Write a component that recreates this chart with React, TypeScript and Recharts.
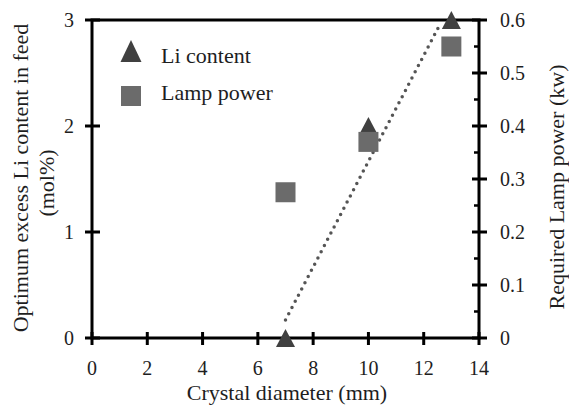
import React from "react";
import {
  ComposedChart,
  Scatter,
  Line,
  XAxis,
  YAxis,
  ReferenceArea,
} from "recharts";

// values
const diameters = [7, 10, 13];
const liContent = [0, 2, 3];
const lampPower = [0.275, 0.37, 0.55];
const trendX = [7, 12.55];
const trendY = [0.17, 2.94];

const xTicks = [0, 2, 4, 6, 8, 10, 12, 14];
const leftTicks = [0, 1, 2, 3];
const rightTicks = [0, 0.05, 0.1, 0.15, 0.2, 0.25, 0.3, 0.35, 0.4, 0.45, 0.5, 0.55, 0.6];

const liData = diameters.map((x, i) => ({ x, y: liContent[i] }));
const lampData = diameters.map((x, i) => ({ x, y: lampPower[i] }));
const trendData = trendX.map((x, i) => ({ x, y: trendY[i] }));

const FONT = "Liberation Serif, Times New Roman, serif";
const TXT = "#1e1e1e";
const TRI = "#404040";
const SQ = "#6b6b6b";
const FRAME = "#000";

const triPath = (cx: number, cy: number, w: number, h: number) =>
  `M${cx},${cy - h / 2} L${cx + w / 2},${cy + h / 2} L${cx - w / 2},${cy + h / 2} Z`;

const Mark = ({ d, w = 3 }: { d: string; w?: number }) => (
  <path d={d} stroke={FRAME} strokeWidth={w} fill="none" />
);

const Label = ({ size = 20, children, ...rest }: any) => (
  <text fontFamily={FONT} fontSize={size} fill={TXT} {...rest}>
    {children}
  </text>
);

const Triangle = (props: any) => (
  <path d={triPath(props.cx, props.cy, 19, 18)} fill={TRI} />
);

const Square = (props: any) => (
  <rect x={props.cx - 10} y={props.cy - 10} width={20} height={20} fill={SQ} />
);

const XTick = ({ x, y, payload }: any) => (
  <g>
    <Mark d={`M${x},${y - 6}V${y + 7}`} />
    <Label x={x} y={y + 37} textAnchor="middle">
      {payload.value}
    </Label>
  </g>
);

const LeftTick = ({ x, y, payload }: any) => (
  <g>
    <Mark d={`M${x - 7},${y}H${x + 8}`} />
    <Label x={x - 18} y={y} dy="0.35em" textAnchor="end">
      {payload.value}
    </Label>
  </g>
);

const RightTick = ({ x, y, payload }: any) => {
  const major = Math.round(payload.value * 100) % 10 === 0;
  if (!major) return <Mark d={`M${x - 5},${y}H${x}`} w={2.5} />;
  const label = payload.value === 0 ? "0" : payload.value.toFixed(1);
  return (
    <g>
      <Mark d={`M${x - 7},${y}H${x + 8}`} />
      <Label x={x + 21} y={y} dy="0.35em" textAnchor="start">
        {label}
      </Label>
    </g>
  );
};

export default function App() {
  return (
    <div style={{ position: "absolute", left: 0, top: 0, background: "#fff" }}>
      <ComposedChart
        width={569}
        height={407}
        margin={{ top: 20, right: 0, bottom: 0, left: 0 }}
      >
        <XAxis
          type="number"
          dataKey="x"
          domain={[0, 14]}
          ticks={xTicks}
          height={69}
          tickSize={0}
          tickMargin={0}
          tickLine={false}
          axisLine={false}
          tick={<XTick />}
          interval={0}
        />
        <YAxis
          yAxisId="left"
          type="number"
          dataKey="y"
          domain={[0, 3]}
          ticks={leftTicks}
          width={92}
          tickSize={0}
          tickMargin={0}
          tickLine={false}
          axisLine={false}
          tick={<LeftTick />}
          interval={0}
        />
        <YAxis
          yAxisId="right"
          orientation="right"
          type="number"
          dataKey="y"
          domain={[0, 0.6]}
          ticks={rightTicks}
          width={90}
          tickSize={0}
          tickMargin={0}
          tickLine={false}
          axisLine={false}
          tick={<RightTick />}
          interval={0}
        />
        {/* plot frame */}
        <ReferenceArea
          yAxisId="left"
          x1={0}
          x2={14}
          y1={0}
          y2={3}
          fill="none"
          fillOpacity={0}
          stroke={FRAME}
          strokeWidth={3}
          strokeOpacity={1}
        />
        <Scatter
          yAxisId="left"
          data={liData}
          dataKey="y"
          shape={<Triangle />}
          isAnimationActive={false}
        />
        <Scatter
          yAxisId="right"
          data={lampData}
          dataKey="y"
          shape={<Square />}
          isAnimationActive={false}
        />
        <Line
          yAxisId="left"
          data={trendData}
          dataKey="y"
          type="linear"
          stroke="#555"
          strokeWidth={3.5}
          strokeDasharray="0 7"
          strokeLinecap="round"
          dot={false}
          activeDot={false}
          isAnimationActive={false}
        />

        {/* legend */}
        <g>
          <path d={triPath(131, 51, 21, 22)} fill={TRI} />
          <Label x={161} y={63} size={22}>Li content</Label>
          <rect x={121} y={86} width={20} height={20} fill={SQ} />
          <Label x={161} y={100} size={22}>Lamp power</Label>
        </g>

        {/* axis titles */}
        <g>
          <Label x={287} y={400} size={22} textAnchor="middle">
            Crystal diameter (mm)
          </Label>
          <Label
            x={20}
            y={178}
            size={22}
            textAnchor="middle"
            dominantBaseline="central"
            transform="rotate(-90 20 178)"
          >
            Optimum excess Li content in feed
          </Label>
          <Label
            x={46}
            y={183}
            size={22}
            textAnchor="middle"
            dominantBaseline="central"
            transform="rotate(-90 46 183)"
          >
            (mol%)
          </Label>
          <Label
            x={556}
            y={187}
            size={22}
            textAnchor="middle"
            dominantBaseline="central"
            transform="rotate(-90 556 187)"
          >
            Required Lamp power (kw)
          </Label>
        </g>
      </ComposedChart>
    </div>
  );
}
